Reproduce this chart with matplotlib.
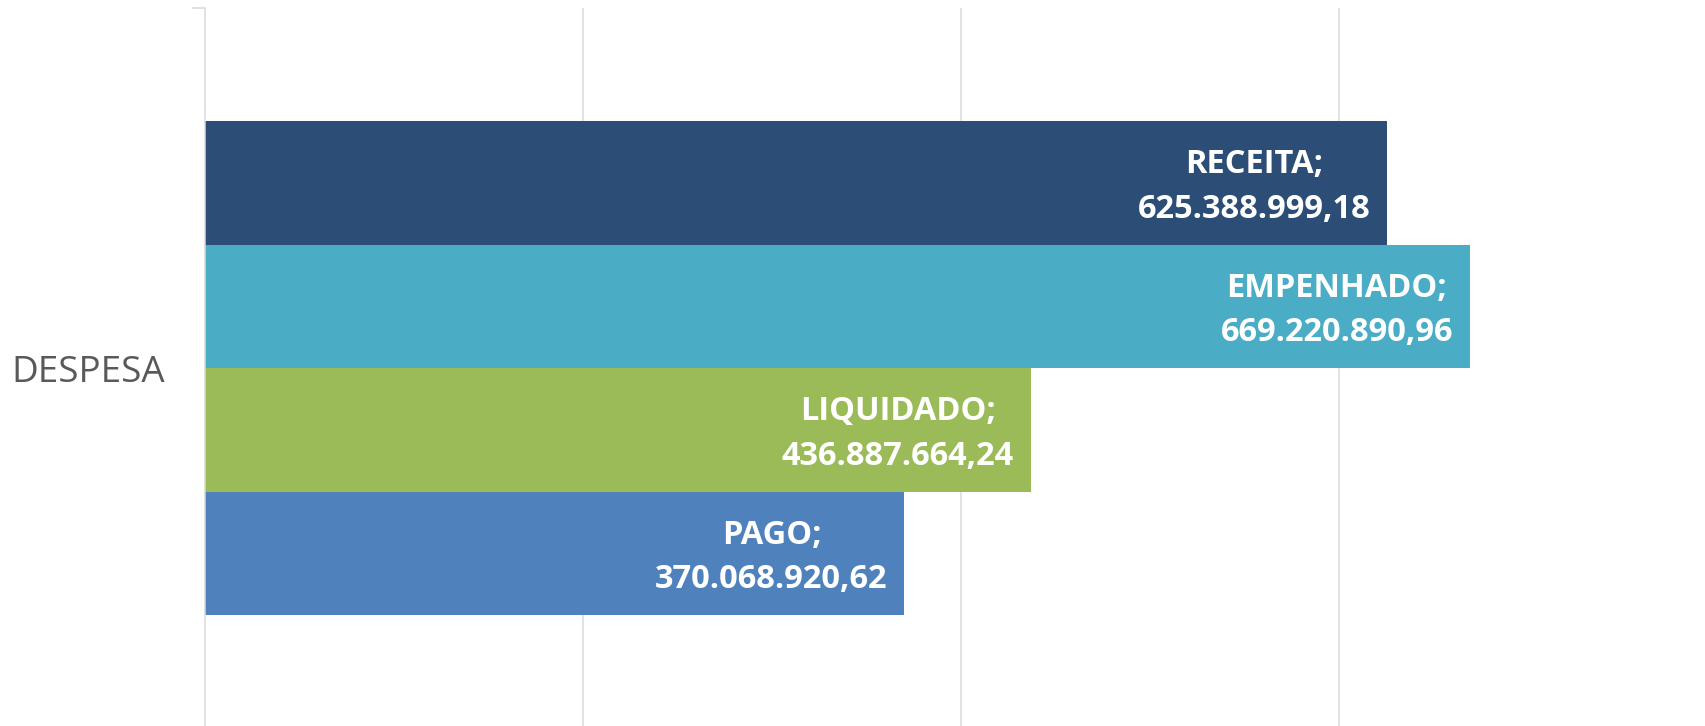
import matplotlib.pyplot as plt
import numpy as np

category = "DESPESA"
series = ["RECEITA", "EMPENHADO", "LIQUIDADO", "PAGO"]
values = [625388999.18, 669220890.96, 436887664.24, 370068920.62]
colors = ["#2C4D75", "#4BACC6", "#9BBB59", "#4F81BD"]
x_max = 800000000
x_grid = [200000000, 400000000, 600000000, 800000000]


def br_format(v):
    s = f"{v:,.2f}"
    return s.replace(",", "X").replace(".", ",").replace("X", ".")


fig = plt.figure(figsize=(17.06, 7.26), dpi=100)
W, H = 1706, 726
ax = fig.add_axes([205 / W, -2 / H, 1512 / W, 720 / H])

grid_c = "#D9D9D9"
h = 123.5 / 720
centers = (np.arange(len(values))[::-1] - (len(values) - 1) / 2) * h

for y, v, c, name in zip(centers, values, colors, series):
    ax.barh(y, v, height=h, color=c, zorder=2)
    ax.annotate(f"{name};\n{br_format(v)}", xy=(v, y), xytext=(-12, -3),
                textcoords="offset points", ha="right", va="center",
                multialignment="center", color="white", fontsize=23.5,
                fontweight="bold", family="Open Sans", linespacing=1.45,
                zorder=3)

ax.set_xlim(0, x_max)
ax.set_ylim(-0.5, 0.5)
ax.set_xticks(x_grid)
ax.tick_params(axis="x", length=0, labelbottom=False)
ax.grid(axis="x", color=grid_c, linewidth=1.1, zorder=0)

ax.set_yticks([0])
ax.set_yticklabels([category], family="Open Sans", fontsize=26.5, color="#595959")
ax.tick_params(axis="y", which="major", length=0, pad=29)
ax.set_yticks([-0.5, 0.5], minor=True)
ax.tick_params(axis="y", which="minor", length=9.4, width=1.1, color=grid_c)

for s in ["top", "right", "bottom"]:
    ax.spines[s].set_visible(False)
ax.spines["left"].set_color(grid_c)
ax.spines["left"].set_linewidth(1.1)

fig.savefig("out.png", dpi=100)
